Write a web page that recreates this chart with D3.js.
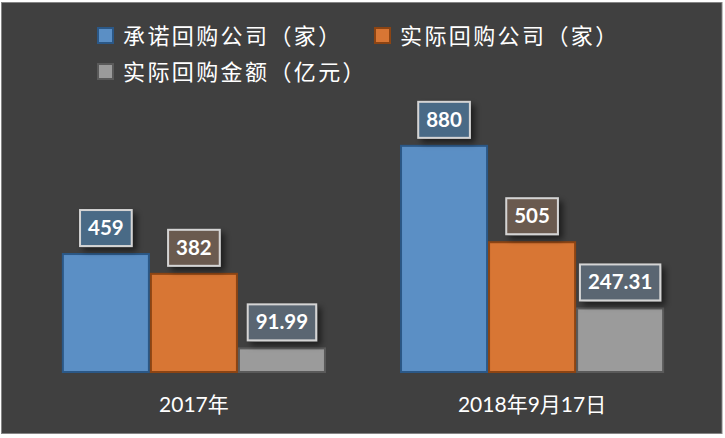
<!DOCTYPE html>
<html><head><meta charset="utf-8">
<script src="https://cdnjs.cloudflare.com/ajax/libs/d3/7.8.5/d3.min.js"></script>
<style>
html,body{margin:0;padding:0;background:#ffffff;}
svg{display:block;}
text{font-family:"Lato","Noto Sans CJK SC",sans-serif;}
</style></head>
<body>
<svg id="chart" width="725" height="438"></svg>
<script>
const categories = ["2017年", "2018年9月17日"];
const seriesNames = ["承诺回购公司（家）", "实际回购公司（家）", "实际回购金额（亿元）"];
const promised = [459, 880];
const actualCount = [382, 505];
const actualAmount = [91.99, 247.31];
const valueLabels = [["459", "880"], ["382", "505"], ["91.99", "247.31"]];

const fills = ["#5b8fc5", "#d87634", "#9b9b9b"];
const strokes = ["#2b5887", "#8c4413", "#5a5a5a"];
const labelFills = ["#4a6a86", "#6b5a50", "#5a6672"];

const seriesValues = [promised, actualCount, actualAmount];

const svg = d3.select("#chart");
const defs = svg.append("defs");
const f = defs.append("filter").attr("id","shadow").attr("x","-30%").attr("y","-30%").attr("width","170%").attr("height","170%");
f.append("feDropShadow").attr("dx",4).attr("dy",4).attr("stdDeviation",3).attr("flood-color","#000").attr("flood-opacity",0.55);

svg.append("rect").attr("x",1.5).attr("y",2.5).attr("width",720.5).attr("height",431)
  .attr("fill","#404040").attr("stroke","#858585").attr("stroke-width",1);

const x0 = d3.scaleBand().domain(categories).range([25, 701]).paddingInner(0.219).paddingOuter(0.109);
const x1 = d3.scaleBand().domain(d3.range(seriesNames.length)).range([0, x0.bandwidth()]).padding(0);
const y = d3.scaleLinear().domain([0, 1000]).range([372, 115]);

// bars
seriesValues.forEach((vals, s) => {
  svg.append("g").selectAll("rect").data(vals).join("rect")
    .attr("x", (d,i) => x0(categories[i]) + x1(s) + 1)
    .attr("y", d => y(d))
    .attr("width", x1.bandwidth() - 2)
    .attr("height", d => y(0) - y(d))
    .attr("fill", fills[s]).attr("stroke", strokes[s]).attr("stroke-width", 2);
});

// labels
seriesValues.forEach((vals, s) => {
  vals.forEach((v, i) => {
    const cx = x0(categories[i]) + x1(s) + x1.bandwidth()/2;
    const g = svg.append("g");
    const t = g.append("text").attr("x", cx).attr("text-anchor","middle")
      .attr("font-size", 20.5).attr("font-weight", 700).attr("fill","#ffffff")
      .text(valueLabels[s][i]);
    const w = t.node().getComputedTextLength() + 16;
    const h = 36;
    const bottom = y(v) - 8;
    g.insert("rect","text").attr("x", cx - w/2).attr("y", bottom - h).attr("width", w).attr("height", h)
      .attr("fill", labelFills[s]).attr("stroke","#d4d4d4").attr("stroke-width",2)
      .attr("filter","url(#shadow)");
    t.attr("y", bottom - h/2 + 7);
  });
});

// x axis labels
svg.append("g").selectAll("text").data(categories).join("text")
  .attr("x", d => x0(d) + x0.bandwidth()/2).attr("y", 412)
  .attr("text-anchor","middle").attr("font-size", 21).attr("fill","#ffffff")
  .text(d => d);

// legend
const legendPos = [[98, 36], [375, 36], [98, 72]];
seriesNames.forEach((n, s) => {
  const [lx, ly] = legendPos[s];
  svg.append("rect").attr("x", lx).attr("y", ly - 8).attr("width", 15).attr("height", 15)
    .attr("fill", fills[s]).attr("stroke", strokes[s]).attr("stroke-width", 2);
  svg.append("text").attr("x", lx + 25).attr("y", ly + 8).attr("font-size", 22)
    .attr("fill","#ffffff").attr("letter-spacing", 2.4).text(n);
});
</script>
</body></html>
